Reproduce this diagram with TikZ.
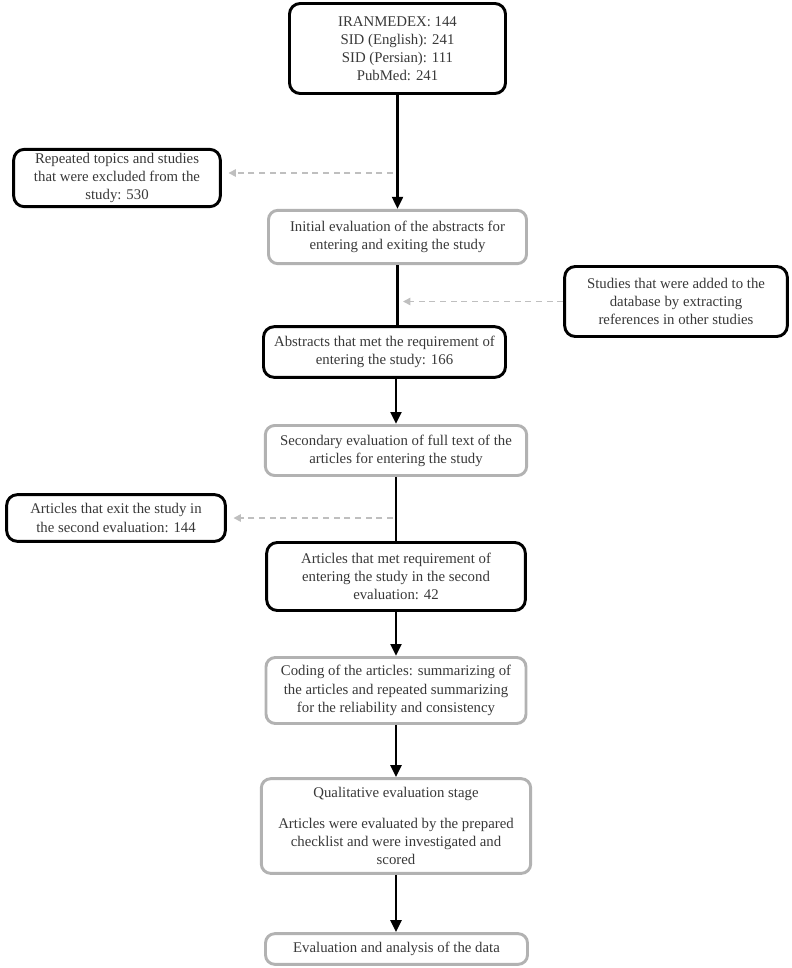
\documentclass[tikz,border=0pt]{standalone}
\usepackage{fontspec}
\setmainfont{Liberation Serif}
\usetikzlibrary{arrows.meta}

\begin{document}
\begin{tikzpicture}[x=0.75pt,y=0.75pt,yscale=-1,xscale=1,
  every node/.style={font=\fontsize{11.1}{13.6}\selectfont, text=black!78, align=center, inner sep=0pt},
  blackbox/.style={draw=black, line width=2.2pt, rounded corners=8pt},
  greybox/.style={draw=black!30, line width=2.2pt, rounded corners=7pt},
  flowline/.style={draw=black, line width=2.2pt},
  flowarrow/.style={flowline, -{Triangle[width=8pt,length=9pt]}},
  sidearrow/.style={draw=black!25, line width=1.1pt, dash pattern=on 4.5pt off 3.5pt, -{Triangle[width=5.5pt,length=5.5pt]}}]
%set diagram left start at 0, and has height of 968
\useasboundingbox (0,0) rectangle (792,968);

%Boxes
\node (src) at (397.5,48.5) [blackbox, minimum width=162pt, minimum height=67.5pt] {IRANMEDEX: 144\\ SID (English): 241\\ SID (Persian): 111\\ PubMed: 241};
\node (rep) at (117,178) [blackbox, minimum width=155pt, minimum height=43pt] {Repeated topics and studies\\ that were excluded from the\\ study: 530};
\node (init) at (397.5,237) [greybox, minimum width=193.5pt, minimum height=40pt] {Initial evaluation of the abstracts for\\ entering and exiting the study};
\node (add) at (676,301.5) [blackbox, minimum width=167pt, minimum height=52.5pt] {Studies that were added to the\\ database by extracting\\ references in other studies};
\node (abs) at (384.5,352) [blackbox, minimum width=181.5pt, minimum height=38pt] {Abstracts that met the requirement of\\ entering the study: 166};
\node (sec) at (396,450.5) [greybox, minimum width=196pt, minimum height=37.5pt] {Secondary evaluation of full text of the\\ articles for entering the study};
\node (exit) at (116,518) [blackbox, minimum width=164pt, minimum height=35pt] {Articles that exit the study in\\ the second evaluation: 144};
\node (met) at (396,576.5) [blackbox, minimum width=194pt, minimum height=51pt] {Articles that met requirement of\\ entering the study in the second\\ evaluation: 42};
\node (cod) at (396,690.5) [greybox, minimum width=195pt, minimum height=49.5pt] {Coding of the articles: summarizing of\\ the articles and repeated summarizing\\ for the reliability and consistency};
\node (qual) at (396,826) [greybox, minimum width=202pt, minimum height=71pt] {Qualitative evaluation stage\\[10pt] Articles were evaluated by the prepared\\ checklist and were investigated and\\ scored};
\node (evl) at (396.5,949) [greybox, minimum width=196.5pt, minimum height=23pt] {Evaluation and analysis of the data};

%Main flow
\draw [flowarrow] (src) -- (init);
\draw [flowline] (init) -- (init.south |- abs.north);
\draw [flowarrow] (sec.north |- abs.south) -- (sec);
\draw [flowline] (sec) -- (met);
\draw [flowarrow] (met) -- (met.south |- cod.north);
\draw [flowarrow] (cod) -- (cod.south |- qual.north);
\draw [flowarrow] (qual) -- (qual.south |- evl.north);

%Side arrows
\coordinate (j1) at (393,173);
\coordinate (j2) at (403,301.5);
\coordinate (j3) at (393,518);
\draw [sidearrow, shorten >=5pt] (j1) -- (j1 -| rep.east);
\draw [sidearrow] (add.west) -- (j2);
\draw [sidearrow, shorten >=5pt] (j3) -- (exit.east);

\end{tikzpicture}
\end{document}
